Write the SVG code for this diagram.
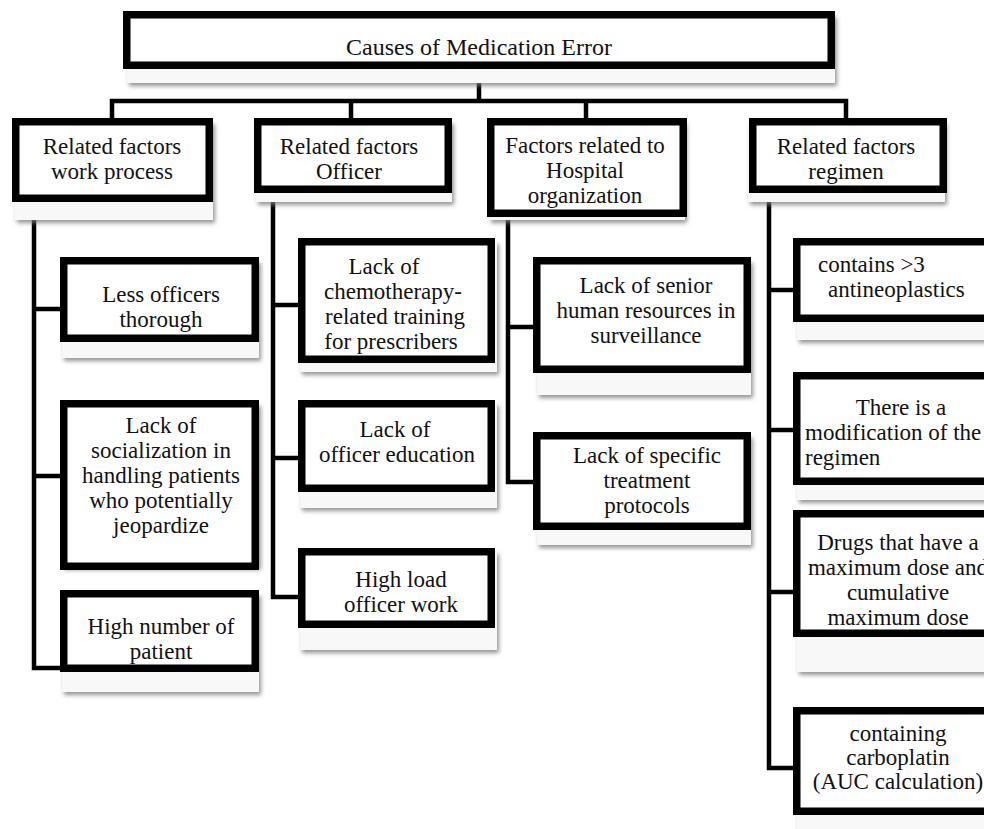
<svg xmlns="http://www.w3.org/2000/svg" width="984" height="829" viewBox="0 0 984 829" font-family="'Liberation Serif', 'DejaVu Serif', serif">
<defs>
<filter id="sh" x="-10%" y="-10%" width="130%" height="140%">
<feDropShadow dx="2" dy="3" stdDeviation="2" flood-color="#7a7a7a" flood-opacity="0.8"/>
</filter>
<style>
.card{fill:#f8f8f8;filter:url(#sh);}
.box{fill:#fff;stroke:#000;stroke-width:7.5;}
.conn{fill:none;stroke:#000;stroke-width:4.5;stroke-linejoin:miter;}
text{font-family:'Liberation Serif','DejaVu Serif',serif;font-size:23px;fill:#111;}
.m{text-anchor:middle;}
.t{font-size:24px;}
</style>
</defs>
<rect width="984" height="829" fill="#fff"/>

<g id="connectors">
<path class="conn" d="M479 83 V101"/>
<path class="conn" d="M112 118 V101 H846 V118"/>
<path class="conn" d="M351 101 V118"/>
<path class="conn" d="M586 101 V118"/>
<path class="conn" d="M34 220 V668 H60 M34 309 H60 M34 476 H60"/>
<path class="conn" d="M273 200 V597 H298 M273 305 H298 M273 458 H298"/>
<path class="conn" d="M508 220 V482 H533 M508 327 H533"/>
<path class="conn" d="M769 200 V768 H793 M769 290 H793 M769 430 H793 M769 592 H793"/>
</g>

<g id="title">
<rect class="card" x="127" y="14" width="708" height="69"/>
<rect class="box" x="126.75" y="14.75" width="704.5" height="50.5"/>
<text class="m t" x="479" y="55">Causes of Medication Error</text>
</g>

<g id="n1">
<rect class="card" x="15" y="121" width="198" height="99"/>
<rect class="box" x="15.75" y="121.75" width="193.5" height="76.5"/>
<text class="m" x="112" y="154">Related factors</text>
<text class="m" x="112" y="179">work process</text>
</g>
<g id="n2">
<rect class="card" x="256" y="121" width="196" height="81"/>
<rect class="box" x="257.75" y="121.75" width="190.5" height="67.5"/>
<text class="m" x="349" y="154">Related factors</text>
<text class="m" x="349" y="179">Officer</text>
</g>
<g id="n3">
<rect class="card" x="489" y="121" width="196" height="99"/>
<rect class="box" x="490.75" y="121.75" width="192.5" height="91.5"/>
<text class="m" x="585" y="153">Factors related to</text>
<text class="m" x="585" y="178">Hospital</text>
<text class="m" x="585" y="203">organization</text>
</g>
<g id="n4">
<rect class="card" x="748" y="121" width="197" height="81"/>
<rect class="box" x="752.75" y="121.75" width="190.5" height="67.5"/>
<text class="m" x="846" y="154">Related factors</text>
<text class="m" x="846" y="179">regimen</text>
</g>

<g id="c1a">
<rect class="card" x="62" y="260" width="197" height="98"/>
<rect class="box" x="63.75" y="260.75" width="191.5" height="77.5"/>
<text class="m" x="161" y="302">Less officers</text>
<text class="m" x="161" y="327">thorough</text>
</g>
<g id="c1b">
<rect class="card" x="62" y="403" width="197" height="164"/>
<rect class="box" x="63.75" y="403.75" width="191.5" height="162.5"/>
<text class="m" x="161" y="433">Lack of</text>
<text class="m" x="161" y="458">socialization in</text>
<text class="m" x="161" y="483">handling patients</text>
<text class="m" x="161" y="508">who potentially</text>
<text class="m" x="161" y="533">jeopardize</text>
</g>
<g id="c1c">
<rect class="card" x="62" y="593" width="197" height="99"/>
<rect class="box" x="63.75" y="593.75" width="191.5" height="74.5"/>
<text class="m" x="161" y="634">High number of</text>
<text class="m" x="161" y="659">patient</text>
</g>

<g id="c2a">
<rect class="card" x="300" y="241" width="197" height="131"/>
<rect class="box" x="301.75" y="241.75" width="189.5" height="117.5"/>
<text class="m" x="384" y="274">Lack of</text>
<text class="m" x="393" y="299">chemotherapy-</text>
<text class="m" x="395" y="324">related training</text>
<text class="m" x="391" y="349">for prescribers</text>
</g>
<g id="c2b">
<rect class="card" x="300" y="403" width="197" height="105"/>
<rect class="box" x="301.75" y="403.75" width="189.5" height="84.5"/>
<text class="m" x="395" y="437">Lack of</text>
<text class="m" x="397" y="462">officer education</text>
</g>
<g id="c2c">
<rect class="card" x="300" y="551" width="197" height="99"/>
<rect class="box" x="301.75" y="551.75" width="189.5" height="72.5"/>
<text class="m" x="401" y="587">High load</text>
<text class="m" x="401" y="612">officer work</text>
</g>

<g id="c3a">
<rect class="card" x="537" y="260" width="214" height="135"/>
<rect class="box" x="536.75" y="260.75" width="210.5" height="108.5"/>
<text class="m" x="646" y="293">Lack of senior</text>
<text class="m" x="646" y="318">human resources in</text>
<text class="m" x="646" y="343">surveillance</text>
</g>
<g id="c3b">
<rect class="card" x="537" y="435" width="214" height="110"/>
<rect class="box" x="536.75" y="435.75" width="210.5" height="90.5"/>
<text class="m" x="647" y="463">Lack of specific</text>
<text class="m" x="647" y="488">treatment</text>
<text class="m" x="647" y="513">protocols</text>
</g>

<g id="c4a">
<rect class="card" x="797" y="241" width="210" height="99"/>
<rect class="box" x="796.75" y="241.75" width="206.5" height="76.5"/>
<text x="818" y="272">contains &gt;3</text>
<text x="828" y="297">antineoplastics</text>
</g>
<g id="c4b">
<rect class="card" x="797" y="375" width="210" height="125"/>
<rect class="box" x="796.75" y="375.75" width="206.5" height="105.5"/>
<text class="m" x="901" y="415">There is a</text>
<text x="805" y="440">modification of the</text>
<text x="805" y="465">regimen</text>
</g>
<g id="c4c">
<rect class="card" x="797" y="513" width="210" height="159"/>
<rect class="box" x="796.75" y="513.75" width="206.5" height="119.5"/>
<text class="m" x="898" y="550">Drugs that have a</text>
<text class="m" x="898" y="575">maximum dose and</text>
<text class="m" x="898" y="600">cumulative</text>
<text class="m" x="898" y="625">maximum dose</text>
</g>
<g id="c4d">
<rect class="card" x="797" y="710" width="210" height="135"/>
<rect class="box" x="796.75" y="710.75" width="206.5" height="100.5"/>
<text class="m" x="898" y="741">containing</text>
<text class="m" x="898" y="765">carboplatin</text>
<text class="m" x="898" y="789">(AUC calculation)</text>
</g>
</svg>
